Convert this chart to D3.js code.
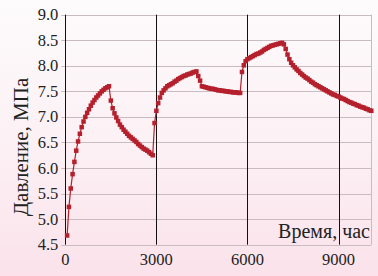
<!DOCTYPE html>
<html><head><meta charset="utf-8">
<script src="https://cdn.jsdelivr.net/npm/d3@7/dist/d3.min.js"></script>
<style>html,body{margin:0;padding:0;background:#fff}svg{display:block}</style>
</head><body>
<script>
const hours = [60,120,180,240,300,360,420,480,540,600,660,720,780,840,900,960,1020,1080,1140,1200,1260,1320,1380,1440,
1500,1560,1620,1680,1740,1800,1860,1920,1980,2040,2100,2160,2220,2280,2340,2400,2460,2520,2580,2640,2700,2760,2820,2880,
2940,3000,3060,3120,3180,3240,3300,3360,3420,3480,3540,3600,3660,3720,3780,3840,3900,3960,4020,4080,4140,4200,4260,4320,
4380,4440,4500,4560,4620,4680,4740,4800,4860,4920,4980,5040,5100,5160,5220,5280,5340,5400,5460,5520,5580,5640,5700,5760,
5820,5880,5940,6000,6060,6120,6180,6240,6300,6360,6420,6480,6540,6600,6660,6720,6780,6840,6900,6960,7020,7080,7140,
7200,7260,7320,7380,7440,7500,7560,7620,7680,7740,7800,7860,7920,7980,8040,8100,8160,8220,8280,8340,8400,8460,8520,8580,
8640,8700,8760,8820,8880,8940,9000,9060,9120,9180,9240,9300,9360,9420,9480,9540,9600,9660,9720,9780,9840,9900,9960,10020,10080];
const pressure = [4.68,5.24,5.60,5.88,6.12,6.34,6.52,6.67,6.80,6.91,7.00,7.08,7.15,7.22,7.28,7.33,7.38,7.42,7.46,7.50,7.53,7.56,7.58,7.60,
7.32,7.17,7.07,6.99,6.92,6.85,6.80,6.75,6.71,6.67,6.63,6.60,6.57,6.54,6.51,6.47,6.44,6.41,6.38,6.36,6.34,6.31,6.28,6.25,
6.88,7.12,7.27,7.38,7.47,7.52,7.56,7.60,7.62,7.64,7.66,7.69,7.71,7.74,7.76,7.78,7.80,7.81,7.83,7.84,7.85,7.87,7.88,7.89,
7.80,7.71,7.60,7.59,7.58,7.57,7.56,7.55,7.55,7.54,7.53,7.52,7.52,7.51,7.51,7.50,7.50,7.49,7.49,7.48,7.48,7.48,7.47,7.47,
7.88,8.01,8.09,8.13,8.15,8.17,8.19,8.21,8.23,8.24,8.26,8.28,8.31,8.33,8.35,8.37,8.39,8.40,8.41,8.42,8.43,8.44,8.45,
8.42,8.33,8.22,8.13,8.06,8.01,7.97,7.93,7.90,7.86,7.83,7.80,7.77,7.75,7.72,7.69,7.67,7.64,7.62,7.60,7.58,7.56,7.54,7.52,
7.50,7.48,7.46,7.44,7.43,7.41,7.40,7.38,7.36,7.35,7.33,7.31,7.29,7.28,7.26,7.25,7.23,7.22,7.20,7.19,7.18,7.16,7.15,7.13,7.12];
const yTicks = [4.5,5.0,5.5,6.0,6.5,7.0,7.5,8.0,8.5,9.0];
const xTicks = [0,3000,6000,9000];
const xTitle = "Время, час";
const yTitle = "Давление, МПа";

const W = 378, H = 276;
const m = {l:65.3, r:6.7, t:14.7, b:31.3};
const svg = d3.select("body").append("svg").attr("width",W).attr("height",H);
const defs = svg.append("defs");
const g1 = defs.append("linearGradient").attr("id","bg").attr("x1",0).attr("y1",0).attr("x2",0).attr("y2",1);
g1.append("stop").attr("offset","0%").attr("stop-color","#fdfbfc");
g1.append("stop").attr("offset","55%").attr("stop-color","#fcf0f4");
g1.append("stop").attr("offset","100%").attr("stop-color","#fbe2eb");
svg.append("rect").attr("width",W).attr("height",H).attr("fill","url(#bg)");

const x = d3.scaleLinear().domain([0,10080]).range([m.l, W-m.r]);
const y = d3.scaleLinear().domain([4.5,9.0]).range([H-m.b, m.t]);

svg.append("g").selectAll("line").data(yTicks).join("line")
  .attr("x1", m.l-4).attr("x2", W-m.r)
  .attr("y1", d=>Math.round(y(d))+0.5).attr("y2", d=>Math.round(y(d))+0.5)
  .attr("stroke","#c9bcc1").attr("stroke-width",1);
svg.append("line").attr("x1",Math.round(W-m.r)+0.5).attr("x2",Math.round(W-m.r)+0.5)
  .attr("y1",y(9)).attr("y2",y(4.5)).attr("stroke","#c9bcc1");
svg.append("g").selectAll("line").data(xTicks).join("line")
  .attr("x1", d=>Math.round(x(d))+0.5).attr("x2", d=>Math.round(x(d))+0.5)
  .attr("y1", y(9)).attr("y2", y(4.5))
  .attr("stroke","#111").attr("stroke-width",1);

const font = "'Liberation Serif','Times New Roman',serif";
svg.append("g").selectAll("text").data(yTicks).join("text")
  .attr("x", m.l-7).attr("y", d=>y(d)+5.5)
  .attr("text-anchor","end").attr("font-family",font).attr("font-size",16.5).attr("fill","#222")
  .text(d=>d3.format(".1f")(d));
svg.append("g").selectAll("text").data(xTicks).join("text")
  .attr("x", d=>x(d)).attr("y", 265)
  .attr("text-anchor","middle").attr("font-family",font).attr("font-size",16.5).attr("fill","#222")
  .text(d=>d);

svg.append("text").attr("transform",`translate(28,${(75+219)/2}) rotate(-90)`)
  .attr("text-anchor","middle").attr("font-family",font).attr("font-size",21).attr("fill","#222")
  .text(yTitle);
svg.append("text").attr("x", 370).attr("y", 238)
  .attr("text-anchor","end").attr("font-family",font).attr("font-size",20).attr("fill","#222")
  .text(xTitle);

const pts = hours.map((h,i)=>[h,pressure[i]]);
const color = "#b5202d";
svg.append("path").datum(pts)
  .attr("d", d3.line().x(d=>x(d[0])).y(d=>y(d[1])))
  .attr("fill","none").attr("stroke",color).attr("stroke-width",1.2);
svg.append("g").selectAll("rect").data(pts).join("rect")
  .attr("x", d=>x(d[0])-2.25).attr("y", d=>y(d[1])-2.25)
  .attr("width",4.5).attr("height",4.5).attr("fill",color);
</script>
</body></html>
